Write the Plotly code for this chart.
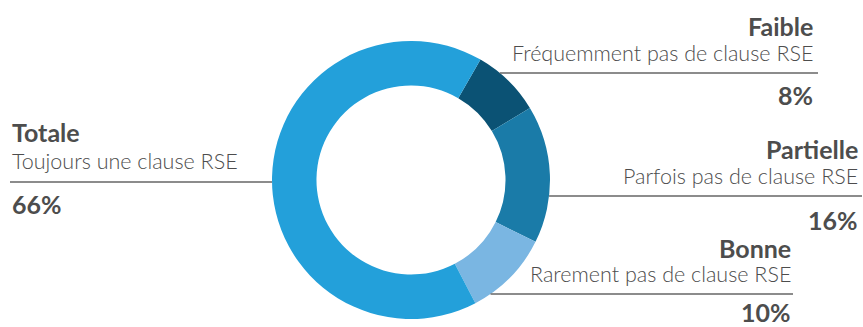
import math
import plotly.graph_objects as go

# Répartition des achats selon la présence d'une clause RSE
categories = ["Faible", "Partielle", "Bonne", "Totale"]
descriptions = [
    "Fréquemment pas de clause RSE",
    "Parfois pas de clause RSE",
    "Rarement pas de clause RSE",
    "Toujours une clause RSE",
]
values = [8, 16, 10, 66]
colors = ["#0B5274", "#1A7BA8", "#7AB6E2", "#23A0DA"]

W, H = 863, 327
TEXT = "#4D4D4D"
FONT = "Lato"

# donut placement (pixels)
cx, cy, r = 411, 180, 139


def px(x):
    return x / W


def py(y):
    return 1 - y / H


fig = go.Figure(
    go.Pie(
        labels=categories,
        values=values,
        marker=dict(colors=colors, line=dict(width=0)),
        hole=0.68,
        sort=False,
        direction="clockwise",
        rotation=30,
        textinfo="none",
        hoverinfo="label+percent",
        domain=dict(x=[px(cx - r), px(cx + r)], y=[py(cy + r), py(cy - r)]),
    )
)

# label blocks: (x, anchor, title y, description y, value y, leader y, leader end x)
blocks = {
    "Totale": (10, "left", 132, 161, 204, 182, 10),
    "Faible": (815, "right", 26, 53, 95, 73, 818),
    "Partielle": (860, "right", 149, 176, 220, 196, 862),
    "Bonne": (793, "right", 248, 274, 312, 294, 793),
}

annotations = []
shapes = []
for cat, desc, val in zip(categories, descriptions, values):
    x, anchor, ty, dy, vy, ly, lx = blocks[cat]
    for text, y, size, weight in (
        (f"<b>{cat}</b>", ty, 25, 700),
        (desc, dy, 21.5, 300),
        (f"<b>{val}%</b>", vy, 25, 700),
    ):
        annotations.append(
            dict(
                text=text,
                x=px(x),
                y=py(y),
                xref="paper",
                yref="paper",
                xanchor=anchor,
                yanchor="middle",
                showarrow=False,
                font=dict(family=FONT, size=size, color=TEXT, weight=weight),
            )
        )
    # leader line meets the outer edge of the ring
    edge = math.sqrt(max(r * r - (ly - cy) ** 2, 0))
    x_ring = cx - edge if anchor == "left" else cx + edge
    shapes.append(
        dict(
            type="line",
            xref="paper",
            yref="paper",
            x0=px(lx),
            x1=px(x_ring),
            y0=py(ly),
            y1=py(ly),
            line=dict(color="#666666", width=1.3),
        )
    )

fig.update_layout(
    width=W,
    height=H,
    margin=dict(l=0, r=0, t=0, b=0),
    paper_bgcolor="white",
    plot_bgcolor="white",
    showlegend=False,
    annotations=annotations,
    shapes=shapes,
)

fig.write_html("out.html")
